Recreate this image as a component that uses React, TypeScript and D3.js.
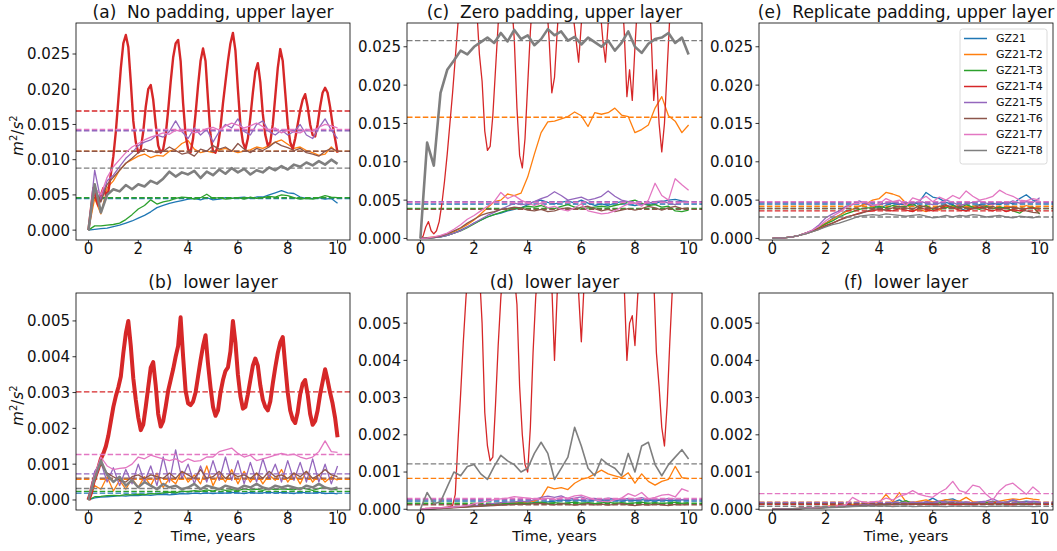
import React from 'react';
import * as d3 from 'd3';

// models and colours (matplotlib tab10)
const MODELS = ['GZ21', 'GZ21-T2', 'GZ21-T3', 'GZ21-T4', 'GZ21-T5', 'GZ21-T6', 'GZ21-T7', 'GZ21-T8'];
const COLORS = ['#1f77b4', '#ff7f0e', '#2ca02c', '#d62728', '#9467bd', '#8c564b', '#e377c2', '#7f7f7f'];

const X_TICKS = [0, 2, 4, 6, 8, 10];
const UPPER_TICKS = [0, 0.005, 0.01, 0.015, 0.02, 0.025];
const LOWER_TICKS = [0, 0.001, 0.002, 0.003, 0.004, 0.005];

// ---- (a) no padding, upper layer, units 1e-3 m2/s2, samples spread evenly over 0..10 years
const aBlue = [0, 0.1, 0.2, 0.3, 0.5, 0.7, 1.0, 1.3, 1.7, 2.1, 2.6, 3.2, 3.5, 3.8, 4.0, 4.2, 4.4, 4.5, 4.3, 4.6,
  4.3, 4.4, 4.6, 4.5, 4.6, 4.7, 4.5, 4.7, 4.7, 5.0, 5.3, 5.6, 5.3, 5.2, 4.7, 4.5, 4.5, 4.6, 4.4, 4.5, 3.8];
const aOrange = [0, 4.5, 2.3, 6.0, 7.0, 8.5, 9.5, 10.0, 10.5, 10.8, 10.3, 10.6, 10.5, 11.2, 11.5, 12.3, 12.7, 11.5, 11.0, 11.2,
  11.0, 11.4, 11.6, 11.3, 11.0, 11.2, 11.4, 11.8, 11.6, 12.0, 12.5, 12.8, 12.2, 11.6, 11.8, 11.3, 11.0, 10.6, 10.8, 11.8, 11.0];
const aGreen = [0, 0.6, 0.6, 0.7, 0.8, 1.0, 1.5, 2.2, 3.0, 3.5, 4.3, 3.7, 4.0, 4.2, 4.5, 4.7, 4.6, 4.4, 4.6, 5.1,
  4.5, 4.6, 4.4, 4.5, 4.6, 4.4, 4.7, 4.5, 4.6, 4.8, 4.7, 5.0, 4.9, 4.6, 4.4, 4.5, 4.4, 4.6, 4.9, 4.7, 4.6];
const aRed = [0, 3.0, 6.0, 4.5, 3.5, 5.0, 6.0, 5.0, 5.5, 8.0,
  10.5, 14.0, 18.5, 23.0, 26.5, 27.7, 26.0, 21.0, 15.5, 12.5,
  11.0, 11.5, 14.0, 17.5, 20.0, 20.6, 18.5, 15.0, 12.0, 11.0,
  11.5, 13.5, 17.0, 21.0, 24.5, 26.5, 27.0, 24.0, 18.0, 13.5,
  11.5, 11.0, 13.0, 16.5, 20.5, 24.0, 25.8, 24.0, 18.5, 13.5,
  11.2, 11.0, 12.0, 14.5, 18.0, 21.0, 24.0, 26.5, 28.0, 25.5,
  20.0, 15.0, 12.5, 11.5, 13.0, 16.0, 19.5, 22.5, 23.7, 21.0,
  16.5, 13.5, 12.0, 12.5, 15.0, 19.0, 23.0, 25.7, 24.0, 19.5,
  15.0, 12.5, 11.5, 13.0, 15.0, 17.0, 18.5, 19.3, 17.5, 15.0,
  13.5, 13.3, 15.0, 17.5, 19.5, 20.2, 19.5, 17.5, 15.0, 13.0, 11.0];
const aPurple = [0, 8.5, 4.2, 7.0, 7.8, 9.0, 10.2, 11.0, 12.0, 12.5, 12.8, 13.5, 13.2, 14.0, 15.5, 14.0, 13.0, 14.5, 13.5, 14.3,
  12.5, 14.0, 15.0, 14.5, 15.8, 14.0, 13.5, 15.0, 15.5, 14.0, 13.5, 14.2, 13.5, 14.0, 15.0, 13.5, 13.0, 14.5, 15.8, 14.2, 13.0];
const aBrown = [0, 6.0, 4.0, 6.5, 7.5, 8.5, 9.5, 10.2, 11.0, 11.5, 11.2, 11.0, 11.2, 11.8, 11.3, 10.8, 11.0, 10.5, 11.5, 11.2,
  12.0, 11.5, 11.8, 11.2, 12.3, 11.5, 11.0, 11.6, 11.3, 11.8, 12.5, 12.0, 11.7, 11.3, 11.6, 11.0, 10.8, 10.5, 11.2, 11.6, 11.2];
const aPink = [0, 6.0, 5.0, 7.5, 9.0, 10.0, 11.0, 11.8, 12.3, 12.8, 13.2, 13.5, 13.8, 13.6, 14.2, 14.0, 14.3, 13.8, 14.0, 14.4,
  14.6, 14.2, 14.8, 15.2, 14.9, 14.5, 14.8, 15.2, 14.7, 14.2, 14.5, 13.8, 14.2, 13.9, 13.8, 14.3, 14.0, 14.6, 15.0, 14.8, 14.5];
const aGray = [0, 6.5, 2.5, 5.0, 5.8, 5.5, 6.4, 5.8, 6.5, 6.2, 7.0, 6.6, 7.3, 8.3, 7.6, 8.2, 7.9, 8.4, 7.4, 8.3,
  7.8, 8.6, 8.0, 8.8, 8.2, 8.7, 7.9, 8.5, 8.2, 8.9, 8.5, 9.1, 8.6, 9.3, 9.0, 9.6, 9.2, 9.8, 9.3, 10.0, 9.4];
const aMeans = [4.5, 11.2, 4.6, 16.9, 14.1, 11.2, 14.3, 8.8];

// ---- (c) zero padding, upper layer, units 1e-3
const cBlue = [0, 0.05, 0.1, 0.2, 0.4, 0.7, 1.1, 1.5, 2.0, 2.4, 2.8, 3.1, 3.3, 3.6, 3.8, 4.0, 4.4, 4.8, 5.0, 4.7,
  4.5, 4.7, 4.9, 4.6, 5.0, 4.6, 4.3, 4.5, 4.3, 4.6, 4.8, 4.4, 4.3, 4.5, 4.4, 4.6, 4.8, 5.0, 5.1, 4.9, 4.8];
const cOrange = [0, 0.1, 0.2, 0.3, 0.6, 0.9, 1.3, 1.8, 2.4, 3.2, 4.0, 4.8, 5.0, 5.8, 5.6, 5.9, 8.0, 11.0, 13.8, 15.2,
  15.3, 15.6, 15.9, 16.5, 16.0, 14.6, 16.4, 16.2, 16.4, 17.0, 16.1, 15.9, 13.8, 14.2, 14.8, 17.0, 18.5, 16.0, 15.3, 13.8, 14.8];
const cGreen = [0, 0.05, 0.1, 0.2, 0.4, 0.7, 1.0, 1.4, 1.9, 2.4, 2.8, 3.1, 3.4, 3.7, 3.9, 4.0, 4.2, 4.1, 4.3, 4.0,
  3.9, 4.2, 4.4, 4.1, 3.8, 4.0, 4.1, 4.2, 4.1, 4.3, 4.5, 4.8, 5.0, 4.6, 4.3, 4.4, 4.1, 4.2, 3.6, 3.5, 3.7];
const cRed = [0, 0.3, 1.5, 2.2, 1.0, 0.6, 1.0, 2.2, 4.5, 7.5,
  11.0, 15.0, 19.0, 23.5, 28.0, 32.0, 34.0, 35.0, 35.0, 35.0,
  34.0, 30.0, 24.0, 20.5, 14.0, 11.5, 12.0, 16.0, 22.0, 28.0,
  33.0, 35.0, 35.0, 34.0, 31.0, 26.0, 17.0, 10.8, 9.2, 13.0,
  20.0, 27.0, 32.0, 35.0, 35.0, 34.0, 33.0, 31.0, 26.0, 19.0,
  21.0, 27.0, 32.0, 35.0, 35.0, 34.0, 32.0, 29.0, 26.0, 23.0,
  28.0, 33.0, 35.0, 35.0, 35.0, 35.0, 34.0, 30.0, 26.0, 23.0,
  28.0, 33.0, 35.0, 35.0, 35.0, 33.0, 27.0, 18.5, 22.0, 18.0,
  25.0, 31.0, 35.0, 35.0, 35.0, 33.0, 27.0, 18.0, 22.0, 15.0,
  11.3, 15.0, 22.0, 29.0, 34.0, 35.0, 35.0, 35.0, 35.0, 35.0, 35.0];
const cPurple = [0, 0.05, 0.1, 0.2, 0.4, 0.7, 1.0, 1.5, 2.0, 2.5, 3.0, 3.4, 3.8, 4.2, 4.6, 4.4, 4.5, 4.8, 5.2, 5.5,
  6.1, 5.6, 5.0, 5.2, 5.4, 5.0, 5.2, 5.5, 6.2, 5.5, 5.0, 4.8, 4.6, 4.4, 4.6, 4.8, 4.9, 4.6, 4.4, 4.8, 4.7];
const cBrown = [0, 0.05, 0.1, 0.3, 0.6, 1.0, 1.4, 2.0, 2.5, 3.0, 3.3, 3.5, 3.8, 3.9, 4.1, 4.0, 3.7, 3.6, 3.8, 3.5,
  3.6, 3.9, 4.0, 3.8, 4.1, 4.2, 3.9, 3.6, 3.8, 3.5, 3.7, 3.9, 3.7, 3.9, 4.2, 4.0, 3.7, 4.0, 4.2, 3.9, 4.0];
const cPink = [0, 0.05, 0.2, 0.4, 0.7, 1.2, 1.8, 2.5, 3.0, 3.6, 4.2, 4.8, 6.0, 5.2, 5.6, 5.0, 4.6, 4.3, 4.6, 4.0,
  4.2, 3.8, 3.6, 4.0, 4.5, 3.6, 3.4, 3.2, 3.3, 3.6, 4.1, 4.5, 4.6, 4.2, 5.0, 7.2, 5.6, 5.0, 7.8, 7.0, 6.3];
const cGray = [0, 12.5, 9.5, 19.0, 22.0, 23.2, 24.5, 24.0, 25.0, 25.6, 26.2, 25.5, 26.8, 25.7, 27.2, 26.0, 26.5, 25.2, 26.0, 27.3,
  26.5, 27.0, 25.8, 26.3, 25.3, 26.2, 25.6, 25.0, 25.8, 24.5, 25.5, 27.0, 25.0, 24.2, 25.4, 26.0, 26.2, 26.8, 25.5, 26.2, 24.0];
const cMeans = [4.5, 15.8, 3.9, 32.0, 4.8, 3.8, 4.7, 25.8];

// ---- (e) replicate padding, upper layer, units 1e-3
const eBlue = [0, 0.05, 0.1, 0.2, 0.4, 0.7, 1.0, 1.5, 2.0, 2.6, 3.0, 3.6, 3.8, 4.2, 4.5, 4.3, 4.0, 4.3, 4.6, 4.4,
  4.5, 4.3, 4.8, 6.0, 5.4, 5.2, 4.7, 4.4, 4.0, 3.6, 4.2, 4.4, 4.3, 4.6, 4.4, 4.8, 4.5, 5.2, 5.7, 5.0, 4.8];
const eOrange = [0, 0.05, 0.1, 0.2, 0.4, 0.7, 1.0, 1.5, 2.0, 2.5, 3.0, 3.5, 3.8, 4.2, 4.5, 5.0, 5.2, 6.0, 5.8, 5.5,
  4.6, 3.6, 3.8, 3.5, 4.0, 3.7, 4.2, 4.0, 4.4, 4.0, 4.2, 3.9, 4.3, 4.0, 3.8, 4.2, 4.1, 3.9, 4.3, 4.0, 4.0];
const eGreen = [0, 0.05, 0.1, 0.2, 0.4, 0.7, 1.0, 1.4, 1.9, 2.3, 2.8, 3.2, 3.5, 3.8, 4.0, 4.0, 4.2, 4.0, 4.3, 4.1,
  4.2, 4.5, 4.0, 4.3, 3.8, 4.2, 4.0, 4.3, 4.0, 4.4, 4.1, 3.8, 4.2, 3.9, 4.1, 4.0, 3.6, 3.3, 3.9, 4.1, 3.2];
const eRed = [0, 0.05, 0.1, 0.2, 0.4, 0.7, 1.0, 1.3, 1.7, 2.0, 2.4, 2.8, 3.0, 3.3, 3.5, 3.6, 3.8, 3.7, 3.6, 3.9,
  3.7, 3.5, 4.0, 3.8, 3.6, 3.9, 4.3, 4.0, 3.7, 3.6, 3.9, 4.1, 3.8, 3.6, 3.9, 3.5, 3.8, 3.6, 3.9, 4.0, 3.8];
const ePurple = [0, 0.05, 0.1, 0.2, 0.4, 0.7, 1.1, 1.8, 2.7, 3.2, 3.6, 4.2, 4.4, 4.9, 4.5, 4.3, 4.4, 4.6, 4.8, 4.5,
  4.7, 4.5, 4.9, 4.6, 4.4, 4.6, 5.0, 4.7, 4.3, 4.5, 4.7, 4.9, 4.6, 4.4, 4.8, 4.5, 4.9, 4.6, 4.8, 4.7, 5.3];
const eBrown = [0, 0.05, 0.1, 0.2, 0.4, 0.6, 0.9, 1.2, 1.6, 2.0, 2.4, 2.7, 3.0, 3.2, 3.5, 3.8, 3.9, 3.7, 4.0, 4.2,
  4.0, 3.8, 4.3, 4.1, 3.9, 4.2, 4.4, 4.0, 4.2, 4.0, 3.9, 4.3, 4.0, 4.2, 3.8, 4.0, 4.1, 3.9, 3.6, 3.4, 3.3];
const ePink = [0, 0.05, 0.1, 0.2, 0.4, 0.7, 1.1, 1.6, 2.3, 2.9, 3.4, 4.0, 4.5, 4.6, 4.8, 4.3, 4.5, 5.2, 4.8, 5.0,
  4.3, 5.3, 5.0, 5.5, 4.8, 5.4, 5.0, 5.6, 5.2, 6.2, 5.5, 5.0, 5.2, 5.5, 6.3, 5.8, 5.5, 5.0, 4.9, 5.2, 5.0];
const eGray = [0, 0.05, 0.1, 0.2, 0.4, 0.6, 0.9, 1.2, 1.5, 1.8, 2.0, 2.3, 2.6, 2.9, 3.0, 3.1, 3.0, 3.2, 3.1, 3.0,
  2.9, 3.0, 3.1, 2.9, 2.7, 2.8, 3.0, 2.8, 3.0, 2.9, 3.1, 3.0, 2.8, 2.9, 3.0, 2.8, 2.7, 2.9, 2.8, 2.7, 2.9];
const eMeans = [4.5, 4.2, 3.9, 3.6, 4.7, 3.9, 4.8, 2.8];

// ---- (b) no padding, lower layer, units 1e-4
const bBlue = [0, 0.6, 0.8, 0.9, 1.0, 1.2, 1.1, 1.3, 1.2, 1.4, 1.3, 1.5, 1.6, 1.4, 1.6, 1.8, 1.7, 1.9, 1.8, 2.0,
  1.8, 2.0, 1.9, 2.1, 2.0, 1.8, 2.1, 1.9, 2.0, 2.2, 1.9, 2.1, 2.0, 1.8, 2.2, 2.0, 1.9, 2.1, 1.8, 1.9, 1.7];
const bOrange = [0, 4.0, 3.0, 6.5, 2.5, 5.5, 3.0, 6.0, 3.5, 6.5, 4.0, 7.5, 3.5, 6.0, 4.5, 8.0, 5.0, 7.0, 4.5, 9.5,
  4.0, 7.5, 5.0, 8.5, 4.5, 8.0, 5.0, 7.5, 4.5, 7.0, 5.5, 8.5, 5.0, 7.5, 4.5, 8.0, 5.0, 7.0, 5.0, 6.5, 5.5];
const bGreen = [0, 0.9, 1.0, 1.2, 1.3, 1.2, 1.5, 1.4, 1.6, 1.5, 1.8, 1.7, 2.0, 2.2, 2.0, 2.5, 2.3, 2.6, 2.4, 2.8,
  2.5, 3.0, 2.7, 2.9, 2.6, 3.1, 2.8, 3.0, 2.7, 3.2, 2.9, 3.1, 3.0, 2.8, 3.4, 3.1, 2.7, 3.2, 3.5, 3.0, 2.8];
const bRed = [0, 2.0, 5.0, 7.0, 9.0, 11.5, 13.0, 15.0, 18.0, 22.0,
  26.0, 29.0, 31.5, 34.5, 41.0, 46.5, 50.0, 43.0, 34.0, 28.0,
  23.0, 19.5, 21.0, 26.0, 31.5, 37.0, 38.5, 32.0, 24.0, 20.5,
  22.0, 26.0, 30.5, 33.5, 36.5, 40.0, 43.0, 51.0, 40.0, 30.5,
  27.0, 26.5, 27.5, 30.0, 34.5, 39.0, 43.0, 46.0, 38.0, 31.5,
  26.0, 23.5, 25.0, 30.0, 33.5, 36.0, 37.0, 41.5, 50.0, 44.0,
  35.0, 29.0, 25.5, 26.0, 29.5, 33.5, 37.5, 39.5, 37.5, 32.0,
  28.0, 26.0, 25.0, 27.5, 32.5, 37.0, 41.0, 44.0, 45.5, 37.5,
  30.0, 25.0, 22.5, 21.5, 24.5, 29.5, 32.5, 33.5, 29.5, 24.0,
  21.0, 22.0, 25.0, 29.5, 33.0, 36.5, 33.5, 30.0, 27.0, 23.0, 17.5];
const bPurple = [0, 8.0, 10.5, 5.0, 9.0, 4.0, 8.5, 4.5, 10.0, 5.0, 9.5, 4.0, 12.0, 5.0, 14.0, 6.0, 10.0, 4.5, 9.5, 5.0,
  11.0, 5.5, 12.0, 5.5, 11.0, 4.5, 10.5, 5.0, 11.5, 6.0, 10.0, 5.0, 11.0, 5.5, 10.5, 5.0, 11.5, 5.0, 10.0, 4.5, 9.5];
const bBrown = [0, 7.0, 10.0, 7.5, 6.5, 5.5, 5.0, 6.5, 7.0, 6.0, 7.0, 6.5, 6.0, 7.5, 6.0, 8.0, 7.0, 6.0, 8.5, 6.0,
  6.5, 8.0, 6.0, 7.5, 6.5, 7.0, 6.0, 7.5, 6.0, 8.0, 6.5, 7.0, 6.0, 7.5, 6.5, 8.0, 6.0, 7.0, 8.5, 7.0, 6.5];
const bPink = [0, 7.0, 12.0, 9.5, 8.5, 8.8, 9.0, 10.0, 12.0, 11.5, 12.5, 12.0, 11.5, 11.0, 11.5, 10.5, 11.5, 10.8, 11.0, 12.0,
  12.0, 13.5, 14.0, 14.5, 13.0, 12.0, 12.5, 11.0, 11.5, 12.0, 12.5, 13.0, 12.5, 12.8, 12.0, 11.5, 12.0, 13.5, 16.5, 13.5, 13.3];
const bGray = [0, 6.0, 11.0, 7.0, 5.0, 6.5, 4.0, 5.5, 3.5, 5.0, 4.0, 3.0, 4.5, 3.5, 4.0, 3.0, 3.5, 4.5, 3.0, 4.0,
  3.5, 3.0, 4.0, 3.5, 3.0, 4.0, 3.5, 4.5, 3.5, 3.0, 4.0, 3.5, 4.0, 3.5, 3.0, 4.0, 3.5, 4.5, 3.5, 3.0, 3.5];
const bMeans = [1.9, 5.8, 2.4, 30.2, 7.3, 6.1, 12.7, 3.2];

// ---- (d) zero padding, lower layer, units 1e-4
const dBlue = [0, 0.1, 0.2, 0.3, 0.4, 0.5, 0.6, 0.7, 0.8, 0.9, 1.0, 1.1, 1.2, 1.3, 1.4, 1.5, 1.6, 1.8, 1.7, 2.0,
  2.2, 2.5, 2.3, 2.6, 2.4, 2.2, 2.5, 2.3, 2.6, 2.4, 2.2, 2.5, 2.3, 2.6, 2.4, 2.2, 2.5, 2.3, 2.4, 2.6, 2.4];
const dOrange = [0, 0.1, 0.2, 0.3, 0.4, 0.5, 0.6, 0.7, 0.9, 1.0, 1.2, 1.4, 1.5, 1.6, 1.8, 1.7, 1.9, 2.2, 3.0, 6.0,
  5.5, 5.8, 5.3, 7.0, 8.0, 8.5, 9.5, 10.5, 9.5, 9.0, 8.5, 9.8, 7.0, 9.5, 7.5, 6.5, 7.5, 8.0, 11.5, 8.5, 8.2];
const dGreen = [0, 0.1, 0.2, 0.3, 0.4, 0.5, 0.6, 0.8, 0.9, 1.0, 1.2, 1.3, 1.4, 1.5, 1.6, 1.7, 1.5, 1.7, 1.9, 1.6,
  1.8, 1.5, 1.7, 1.9, 1.6, 1.8, 1.5, 1.7, 1.9, 1.6, 1.8, 1.5, 1.7, 1.9, 1.6, 1.8, 1.5, 1.7, 1.9, 1.6, 1.8];
const dRed = [0, 0.1, 0.2, 0.2, 0.3, 0.3, 0.3, 0.4, 0.4, 0.5,
  0.6, 0.7, 1.0, 4.0, 18.0, 31.0, 45.0, 57.0, 66.0, 70.0,
  70.0, 68.0, 64.0, 50.0, 26.0, 17.0, 13.0, 14.0, 28.0, 44.0,
  57.0, 66.0, 70.0, 70.0, 68.0, 63.0, 55.0, 33.0, 20.0, 12.0,
  10.0, 22.0, 42.0, 57.0, 66.0, 70.0, 70.0, 68.0, 64.0, 60.0,
  40.0, 58.0, 66.0, 70.0, 70.0, 70.0, 70.0, 68.0, 64.0, 58.0,
  45.0, 60.0, 68.0, 70.0, 70.0, 70.0, 70.0, 68.0, 64.0, 60.0,
  62.0, 66.0, 70.0, 70.0, 70.0, 68.0, 60.0, 40.0, 50.0, 52.0,
  44.0, 57.0, 66.0, 70.0, 70.0, 70.0, 68.0, 62.0, 42.0, 33.0,
  22.0, 17.0, 28.0, 45.0, 60.0, 68.0, 70.0, 70.0, 70.0, 70.0, 70.0];
const dPurple = [0, 0.1, 0.2, 0.3, 0.4, 0.6, 0.7, 0.9, 1.0, 1.2, 1.4, 1.6, 1.8, 1.9, 2.0, 2.2, 2.0, 2.6, 3.2, 3.5,
  3.2, 3.6, 2.8, 3.0, 3.3, 2.7, 2.9, 2.6, 3.0, 2.8, 2.6, 2.9, 2.7, 3.1, 2.6, 2.8, 2.5, 2.9, 2.7, 2.6, 2.8];
const dBrown = [0, 0.1, 0.1, 0.2, 0.3, 0.4, 0.5, 0.6, 0.7, 0.8, 0.9, 1.0, 1.1, 1.2, 1.3, 1.4, 1.3, 1.5, 1.6, 1.4,
  1.2, 1.5, 1.3, 1.1, 1.3, 1.5, 1.2, 1.4, 1.1, 1.3, 1.5, 1.2, 1.0, 1.3, 1.1, 1.4, 1.2, 1.0, 1.3, 1.2, 1.4];
const dPink = [0, 0.2, 0.3, 0.4, 0.5, 0.6, 0.8, 1.0, 1.5, 1.8, 2.2, 2.6, 2.8, 3.0, 3.4, 3.2, 3.0, 2.8, 2.6, 3.0,
  2.6, 3.2, 3.0, 3.6, 3.8, 3.2, 2.5, 2.2, 2.0, 2.5, 3.0, 4.2, 3.5, 4.5, 2.8, 3.2, 3.8, 4.0, 3.3, 5.5, 4.8];
const dGray = [0, 4.5, 1.5, 2.0, 6.0, 10.0, 9.0, 11.5, 12.0, 9.5, 8.0, 11.5, 14.5, 13.0, 12.0, 10.0, 11.0, 15.0, 18.0, 15.0,
  8.0, 11.0, 14.0, 22.0, 17.0, 11.0, 9.0, 13.5, 12.0, 11.0, 9.0, 15.0, 10.0, 17.0, 18.0, 12.0, 9.0, 12.0, 14.0, 16.0, 13.5];
const dMeans = [2.2, 8.3, 1.6, 62.0, 2.6, 1.2, 2.9, 12.2];

// ---- (f) replicate padding, lower layer, units 1e-4
const fBlue = [0, 0.05, 0.1, 0.15, 0.2, 0.3, 0.35, 0.4, 0.5, 0.6, 0.7, 0.8, 1.0, 1.1, 1.2, 1.3, 1.4, 1.5, 1.8, 2.5,
  1.6, 1.8, 1.5, 2.0, 3.0, 2.0, 2.5, 2.8, 2.0, 1.8, 1.6, 2.0, 1.8, 2.2, 1.7, 2.0, 2.3, 1.9, 2.2, 2.0, 1.8];
const fOrange = [0, 0.05, 0.1, 0.15, 0.2, 0.3, 0.4, 0.6, 0.8, 1.0, 1.1, 1.2, 1.3, 1.4, 1.5, 1.6, 1.8, 4.0, 2.0, 4.5,
  2.0, 1.8, 2.2, 2.5, 2.0, 2.2, 2.6, 2.4, 2.2, 3.2, 2.0, 1.8, 2.0, 1.8, 2.2, 2.5, 2.8, 2.6, 3.0, 2.7, 2.5];
const fGreen = [0, 0.05, 0.1, 0.15, 0.2, 0.3, 0.35, 0.4, 0.5, 0.6, 0.7, 0.8, 0.9, 1.0, 1.1, 1.2, 1.3, 1.2, 1.4, 1.8,
  2.3, 1.5, 1.4, 1.6, 1.5, 1.7, 2.0, 1.6, 1.4, 1.6, 1.5, 1.7, 1.8, 1.5, 1.6, 1.4, 1.5, 1.7, 1.6, 1.5, 1.6];
const fRed = [0, 0.05, 0.1, 0.15, 0.2, 0.25, 0.3, 0.4, 0.5, 0.6, 0.7, 0.8, 0.9, 1.0, 1.0, 1.1, 1.2, 1.3, 1.2, 1.4,
  1.3, 1.5, 1.2, 1.4, 1.3, 1.2, 1.5, 1.3, 1.2, 1.4, 1.3, 1.5, 1.4, 1.6, 1.9, 1.3, 1.2, 1.4, 1.3, 1.5, 1.3];
const fPurple = [0, 0.05, 0.1, 0.15, 0.2, 0.3, 0.35, 0.45, 0.55, 0.65, 0.8, 0.9, 1.0, 1.1, 1.3, 1.4, 1.5, 1.6, 1.8, 1.7,
  1.6, 1.9, 1.7, 2.0, 1.8, 2.2, 1.9, 2.1, 1.8, 2.0, 1.7, 2.0, 2.2, 2.8, 2.0, 1.8, 2.6, 2.0, 1.9, 2.2, 2.0];
const fBrown = [0, 0.05, 0.1, 0.15, 0.2, 0.25, 0.3, 0.35, 0.45, 0.55, 0.65, 0.75, 0.85, 0.95, 1.05, 1.1, 1.2, 1.3, 1.4, 1.3,
  1.4, 1.5, 1.3, 1.5, 1.6, 1.4, 1.5, 1.7, 1.5, 1.4, 1.6, 1.5, 1.3, 1.5, 1.4, 1.6, 1.5, 1.3, 1.4, 1.6, 1.4];
const fPink = [0, 0.05, 0.1, 0.15, 0.2, 0.3, 0.4, 0.5, 0.6, 0.8, 1.0, 1.2, 3.2, 2.2, 1.8, 2.0, 2.2, 3.0, 2.5, 3.5,
  4.0, 5.0, 4.0, 3.5, 3.2, 4.5, 5.5, 7.5, 5.0, 4.5, 6.5, 6.0, 4.0, 2.5, 5.0, 6.5, 7.0, 5.5, 4.0, 6.0, 4.5];
const fGray = [0, 0.05, 0.1, 0.15, 0.2, 0.25, 0.3, 0.35, 0.4, 0.45, 0.5, 0.6, 0.7, 0.8, 0.85, 0.9, 0.8, 0.9, 0.7, 0.85,
  0.9, 0.7, 0.8, 0.75, 0.9, 0.8, 0.7, 0.9, 0.8, 0.75, 0.9, 0.8, 0.7, 0.85, 0.8, 0.9, 0.75, 0.8, 0.85, 0.7, 0.8];
const fMeans = [1.7, 1.9, 1.4, 1.3, 1.8, 1.5, 4.2, 0.8];

type PanelSpec = {
  title: string; series: number[][]; means: number[]; unit: number; ticks: number[];
  yDomain: [number, number]; x0: number; x1: number; y0: number; y1: number;
  widths: number[]; yLabel?: boolean; xLabel?: boolean; legend?: boolean;
};

const W = 1.3;
const panels: PanelSpec[] = [
  { title: '(a)  No padding, upper layer', series: [aBlue, aOrange, aGreen, aRed, aPurple, aBrown, aPink, aGray], means: aMeans,
    unit: 1e-3, ticks: UPPER_TICKS, yDomain: [-0.0014, 0.0294], x0: 76, x1: 350, y0: 23, y1: 240,
    widths: [W, W, W, 2.4, W, W, W, 2.6], yLabel: true },
  { title: '(c)  Zero padding, upper layer', series: [cBlue, cOrange, cGreen, cRed, cPurple, cBrown, cPink, cGray], means: cMeans,
    unit: 1e-3, ticks: UPPER_TICKS, yDomain: [-0.0002, 0.0281], x0: 407, x1: 702, y0: 23, y1: 240,
    widths: [W, W, W, W, W, W, W, 2.6] },
  { title: '(e)  Replicate padding, upper layer', series: [eBlue, eOrange, eGreen, eRed, ePurple, eBrown, ePink, eGray], means: eMeans,
    unit: 1e-3, ticks: UPPER_TICKS, yDomain: [-0.0002, 0.0281], x0: 759, x1: 1053, y0: 23, y1: 240,
    widths: [W, W, W, W, W, W, W, W], legend: true },
  { title: '(b)  lower layer', series: [bBlue, bOrange, bGreen, bRed, bPurple, bBrown, bPink, bGray], means: bMeans,
    unit: 1e-4, ticks: LOWER_TICKS, yDomain: [-0.00028, 0.00578], x0: 76, x1: 350, y0: 293, y1: 510,
    widths: [W, W, W, 4.0, W, W, W, 2.4], yLabel: true, xLabel: true },
  { title: '(d)  lower layer', series: [dBlue, dOrange, dGreen, dRed, dPurple, dBrown, dPink, dGray], means: dMeans,
    unit: 1e-4, ticks: LOWER_TICKS, yDomain: [-0.00002, 0.00581], x0: 407, x1: 702, y0: 293, y1: 510,
    widths: [W, W, W, W, W, W, W, 1.6], xLabel: true },
  { title: '(f)  lower layer', series: [fBlue, fOrange, fGreen, fRed, fPurple, fBrown, fPink, fGray], means: fMeans,
    unit: 1e-4, ticks: LOWER_TICKS, yDomain: [-0.00002, 0.00581], x0: 759, x1: 1053, y0: 293, y1: 510,
    widths: [W, W, W, W, W, W, W, W], xLabel: true },
];

const FONT = '"DejaVu Sans", sans-serif';
const fmt = d3.format('.3f');

function Panel({ p, idx }: { p: PanelSpec; idx: number }) {
  const x = d3.scaleLinear().domain([-0.5, 10.5]).range([p.x0, p.x1]);
  const y = d3.scaleLinear().domain(p.yDomain).range([p.y1, p.y0]);
  const clipId = `clip-${idx}`;
  const pathFor = (vals: number[]) =>
    d3.line<number>()
      .x((_, i) => x((i * 10) / (vals.length - 1)))
      .y((v) => y(v * p.unit))(vals) || '';
  const cx = (p.x0 + p.x1) / 2;
  const cy = (p.y0 + p.y1) / 2;

  return (
    <g>
      <defs>
        <clipPath id={clipId}>
          <rect x={p.x0} y={p.y0} width={p.x1 - p.x0} height={p.y1 - p.y0} />
        </clipPath>
      </defs>
      <g clipPath={`url(#${clipId})`}>
        {p.series.map((s, i) => (
          <g key={i}>
            <path d={pathFor(s)} fill="none" stroke={COLORS[i]} strokeWidth={p.widths[i]} strokeLinejoin="round" />
            <line x1={p.x0} x2={p.x1} y1={y(p.means[i] * p.unit)} y2={y(p.means[i] * p.unit)}
              stroke={COLORS[i]} strokeWidth={1.4} strokeDasharray="5.5,2.4" />
          </g>
        ))}
      </g>
      <rect x={p.x0} y={p.y0} width={p.x1 - p.x0} height={p.y1 - p.y0} fill="none" stroke="#000" strokeWidth={0.8} />
      {X_TICKS.map((t) => (
        <g key={t}>
          <line x1={x(t)} x2={x(t)} y1={p.y1} y2={p.y1 + 3.5} stroke="#000" strokeWidth={0.8} />
          <text x={x(t)} y={p.y1 + 13.8} textAnchor="middle" fontSize={15} fontFamily={FONT} fill="#111">{t}</text>
        </g>
      ))}
      {p.ticks.map((t) => (
        <g key={t}>
          <line x1={p.x0 - 3.5} x2={p.x0} y1={y(t)} y2={y(t)} stroke="#000" strokeWidth={0.8} />
          <text x={p.x0 - 6} y={y(t)} dy="0.36em" textAnchor="end" fontSize={15} fontFamily={FONT} fill="#111">{fmt(t)}</text>
        </g>
      ))}
      <text x={cx} y={p.y0 - 5} textAnchor="middle" fontSize={17} fontFamily={FONT} fill="#111"
        style={{ whiteSpace: 'pre' }}>{p.title}</text>
      {p.xLabel && (
        <text x={cx} y={541} textAnchor="middle" fontSize={14.5} fontFamily={FONT} fill="#111">Time, years</text>
      )}
      {p.yLabel && (
        <text transform={`translate(23,${cy + 4}) rotate(-90)`} textAnchor="middle" fontSize={15} fontFamily={FONT} fill="#111">
          <tspan fontStyle="italic">m</tspan>
          <tspan dy={-6} fontSize={10}>2</tspan>
          <tspan dy={6}>/</tspan>
          <tspan fontStyle="italic">s</tspan>
          <tspan dy={-6} fontSize={10}>2</tspan>
        </text>
      )}
      {p.legend && (
        <g>
          <rect x={960} y={29} width={87} height={135} rx={2.5} fill="#fff" fillOpacity={0.85} stroke="#d0d0d0" strokeWidth={0.8} />
          {MODELS.map((m, i) => (
            <g key={m}>
              <line x1={964} x2={987} y1={38.5 + i * 16} y2={38.5 + i * 16} stroke={COLORS[i]} strokeWidth={1.5} />
              <text x={996} y={38.5 + i * 16} dy="0.36em" fontSize={11} fontFamily={FONT} fill="#111">{m}</text>
            </g>
          ))}
        </g>
      )}
    </g>
  );
}

export default function App() {
  return (
    <svg width={1057} height={551} style={{ position: 'absolute', left: 0, top: 0, background: '#fff' }}>
      {panels.map((p, i) => <Panel key={i} p={p} idx={i} />)}
    </svg>
  );
}
